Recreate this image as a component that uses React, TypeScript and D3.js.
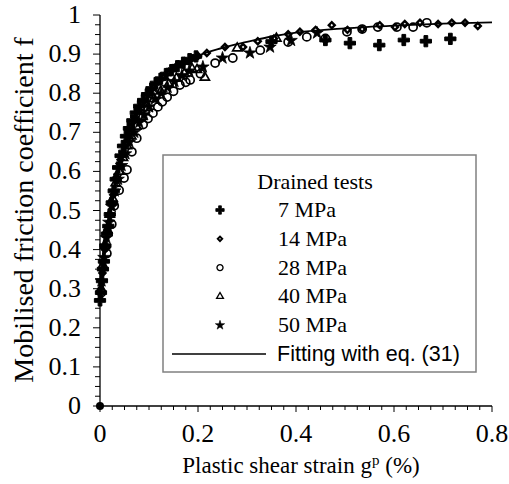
import React from 'react';
import * as d3 from 'd3';

// fitting curve
const fitG = [0, 0.005, 0.01, 0.02, 0.03, 0.04, 0.05, 0.06, 0.08, 0.1, 0.12, 0.15, 0.18, 0.2, 0.25, 0.3, 0.35, 0.4, 0.5, 0.6, 0.7, 0.8];
const fitF = [0.27, 0.33, 0.39, 0.48, 0.56, 0.62, 0.665, 0.7, 0.755, 0.795, 0.828, 0.858, 0.88, 0.895, 0.916, 0.931, 0.945, 0.955, 0.966, 0.973, 0.978, 0.981];

// 7 MPa
const g7 = [0, 0.002, 0.004, 0.006, 0.008, 0.011, 0.014, 0.017, 0.02, 0.024, 0.028, 0.032, 0.037, 0.042, 0.047, 0.053, 0.059, 0.066, 0.073, 0.08, 0.088, 0.096, 0.105, 0.114, 0.124, 0.135, 0.146, 0.158, 0.17, 0.183, 0.196, 0.35, 0.46, 0.51, 0.57, 0.62, 0.665, 0.715];
const f7 = [0.27, 0.29, 0.32, 0.35, 0.37, 0.41, 0.44, 0.46, 0.49, 0.52, 0.55, 0.58, 0.61, 0.64, 0.665, 0.69, 0.71, 0.73, 0.75, 0.767, 0.782, 0.797, 0.812, 0.826, 0.837, 0.849, 0.859, 0.869, 0.878, 0.887, 0.894, 0.932, 0.936, 0.928, 0.923, 0.936, 0.933, 0.939];

// 14 MPa
const g14 = [0.005, 0.01, 0.015, 0.02, 0.027, 0.034, 0.042, 0.05, 0.06, 0.07, 0.08, 0.09, 0.1, 0.11, 0.12, 0.13, 0.14, 0.155, 0.17, 0.185, 0.2, 0.218, 0.255, 0.292, 0.322, 0.355, 0.384, 0.408, 0.44, 0.473, 0.505, 0.535, 0.571, 0.602, 0.622, 0.653, 0.69, 0.718, 0.745, 0.771];
const f14 = [0.34, 0.4, 0.45, 0.49, 0.54, 0.585, 0.63, 0.665, 0.7, 0.73, 0.757, 0.78, 0.8, 0.815, 0.83, 0.842, 0.855, 0.868, 0.878, 0.886, 0.895, 0.903, 0.918, 0.918, 0.933, 0.94, 0.951, 0.957, 0.962, 0.974, 0.962, 0.964, 0.974, 0.969, 0.977, 0.98, 0.977, 0.98, 0.98, 0.972];

// 28 MPa
const g28 = [0.003, 0.014, 0.024, 0.029, 0.039, 0.049, 0.055, 0.065, 0.075, 0.088, 0.098, 0.108, 0.118, 0.127, 0.137, 0.15, 0.163, 0.175, 0.184, 0.205, 0.235, 0.271, 0.327, 0.384, 0.422, 0.46, 0.504, 0.535, 0.567, 0.606, 0.639, 0.667];
const f28 = [0.29, 0.39, 0.465, 0.512, 0.552, 0.583, 0.604, 0.65, 0.685, 0.72, 0.735, 0.749, 0.765, 0.778, 0.79, 0.805, 0.821, 0.828, 0.834, 0.85, 0.877, 0.89, 0.91, 0.931, 0.944, 0.94, 0.957, 0.964, 0.969, 0.969, 0.969, 0.98];

// 40 MPa
const g40 = [0.002, 0.006, 0.01, 0.015, 0.02, 0.026, 0.032, 0.039, 0.047, 0.055, 0.064, 0.074, 0.085, 0.097, 0.11, 0.124, 0.14, 0.156, 0.172, 0.188, 0.198, 0.214, 0.28, 0.36];
const f40 = [0.3, 0.36, 0.41, 0.45, 0.49, 0.53, 0.57, 0.6, 0.635, 0.665, 0.69, 0.715, 0.74, 0.762, 0.785, 0.805, 0.823, 0.838, 0.85, 0.862, 0.86, 0.84, 0.915, 0.94];

// 50 MPa
const g50 = [0.003, 0.008, 0.013, 0.018, 0.024, 0.03, 0.037, 0.044, 0.052, 0.06, 0.07, 0.08, 0.09, 0.1, 0.112, 0.125, 0.138, 0.152, 0.167, 0.182, 0.21, 0.25, 0.306, 0.347, 0.39, 0.443];
const f50 = [0.32, 0.38, 0.43, 0.47, 0.51, 0.55, 0.58, 0.615, 0.645, 0.675, 0.7, 0.725, 0.745, 0.765, 0.785, 0.8, 0.815, 0.83, 0.845, 0.857, 0.867, 0.89, 0.903, 0.918, 0.935, 0.954];

const originG = [0];
const originF = [0];

const xTicks = [0, 0.2, 0.4, 0.6, 0.8];
const yTicks = [0, 0.1, 0.2, 0.3, 0.4, 0.5, 0.6, 0.7, 0.8, 0.9, 1];
const legendLabels = ['7 MPa', '14 MPa', '28 MPa', '40 MPa', '50 MPa'];

const serif = "'Liberation Serif', 'Times New Roman', Times, serif";
const sans = "'Liberation Sans', Arial, sans-serif";

const zip = (g: number[], f: number[]) => g.map((d, i) => [d, f[i]] as [number, number]);

const marker = (kind: number, size: number) => {
  // diamond drawn as a square turned 45 degrees (see rotate below)
  const types = [d3.symbolCross, d3.symbolSquare, d3.symbolCircle, d3.symbolTriangle, d3.symbolStar];
  return d3.symbol().type(types[kind]).size(size)() as string;
};

const markerStyle = (kind: number) => {
  if (kind === 0) return { fill: '#000', stroke: '#000', strokeWidth: 1 };
  if (kind === 1) return { fill: '#fff', stroke: '#000', strokeWidth: 2.4 };
  if (kind === 4) return { fill: '#000', stroke: '#000', strokeWidth: 0.8 };
  return { fill: 'none', stroke: '#000', strokeWidth: 1.7 };
};

export default function App() {
  const x = d3.scaleLinear().domain([0, 0.8]).range([100, 492]);
  const y = d3.scaleLinear().domain([0, 1]).range([406, 15]);

  const line = d3.line<[number, number]>()
    .x(d => x(d[0]))
    .y(d => y(d[1]))
    .curve(d3.curveMonotoneX);

  const series = [zip(g7, f7), zip(g14, f14), zip(g28, f28), zip(g40, f40), zip(g50, f50)];
  const drawOrder = [4, 3, 2, 1, 0];
  const sizes = [70, 18, 52, 36, 48];

  const xMinor = d3.range(0, 0.8001, 0.025);
  const yMinor = d3.range(0, 1.0001, 0.025);

  const lx = 163, ly = 155, lw = 313, lh = 217;

  return (
    <svg width={509} height={484} style={{ position: 'absolute', left: 0, top: 0, background: '#fff' }}>

      {/* data */}
      {drawOrder.map(k => (
        <g key={k}>
          {series[k].map((d, i) => {
            const st = markerStyle(k);
            return (
              <path
                key={i}
                d={marker(k, sizes[k])}
                transform={`translate(${x(d[0])},${y(d[1])})${k === 1 ? ' rotate(45)' : ''}`}
                fill={st.fill}
                stroke={st.stroke}
                strokeWidth={st.strokeWidth}
              />
            );
          })}
        </g>
      ))}

      {/* fitting curve */}
      <path d={line(zip(fitG, fitF)) as string} fill='none' stroke='#000' strokeWidth={1.8} />

      {zip(originG, originF).map((d, i) => (
        <circle key={i} cx={x(d[0])} cy={y(d[1])} r={4} fill='#000' />
      ))}

      {/* axes */}
      <line x1={x(0)} y1={y(0)} x2={x(0.8)} y2={y(0)} stroke='#000' strokeWidth={1.3} />
      <line x1={x(0)} y1={y(0)} x2={x(0)} y2={y(1)} stroke='#000' strokeWidth={1.3} />
      {xMinor.map((d, i) => (
        <line key={'xm' + i} x1={x(d)} x2={x(d)} y1={y(0)} y2={y(0) + (i % 8 === 0 ? 6 : 4)} stroke='#000' strokeWidth={1} />
      ))}
      {yMinor.map((d, i) => (
        <line key={'ym' + i} y1={y(d)} y2={y(d)} x1={x(0)} x2={x(0) - (i % 4 === 0 ? 7 : 5)} stroke='#000' strokeWidth={1} />
      ))}
      <g style={{ fontFamily: serif }}>
        {xTicks.map(d => (
          <text key={'xt' + d} x={x(d)} y={442} textAnchor='middle' fontSize={26}>{String(d)}</text>
        ))}
        {yTicks.map(d => (
          <text key={'yt' + d} x={x(0) - 19} y={y(d) + 8} textAnchor='end' fontSize={26}>{String(d)}</text>
        ))}

        <text x={301} y={473} textAnchor='middle' fontSize={23}>
          Plastic shear strain g<tspan dy={-8} fontSize={15}>p</tspan><tspan dy={8}> (%)</tspan>
        </text>
        <text transform={`translate(33,210) rotate(-90)`} textAnchor='middle' fontSize={28}>
          Mobilised friction coefficient f
        </text>
      </g>

      {/* legend */}
      <rect x={lx} y={ly} width={lw} height={lh} fill='#fff' stroke='#808080' strokeWidth={1.5} />
      <g style={{ fontFamily: serif }}>
        <text x={315} y={189} textAnchor='middle' fontSize={22}>Drained tests</text>
        {legendLabels.map((d, i) => {
          const st = markerStyle(i);
          const cy = 210 + i * 28.8;
          return (
            <g key={d}>
              <path
                d={marker(i, sizes[i] * 0.55)}
                transform={`translate(220,${cy})${i === 1 ? ' rotate(45)' : ''}`}
                fill={st.fill}
                stroke={st.stroke}
                strokeWidth={st.strokeWidth * 0.8}
              />
              <text x={278} y={cy + 7} fontSize={22}>{d}</text>
            </g>
          );
        })}
      </g>
      <line x1={172} x2={266} y1={354} y2={354} stroke='#000' strokeWidth={1.7} />
      <text x={277} y={361} style={{ fontFamily: sans }} fontSize={21.5}>Fitting with eq. (31)</text>
    </svg>
  );
}
